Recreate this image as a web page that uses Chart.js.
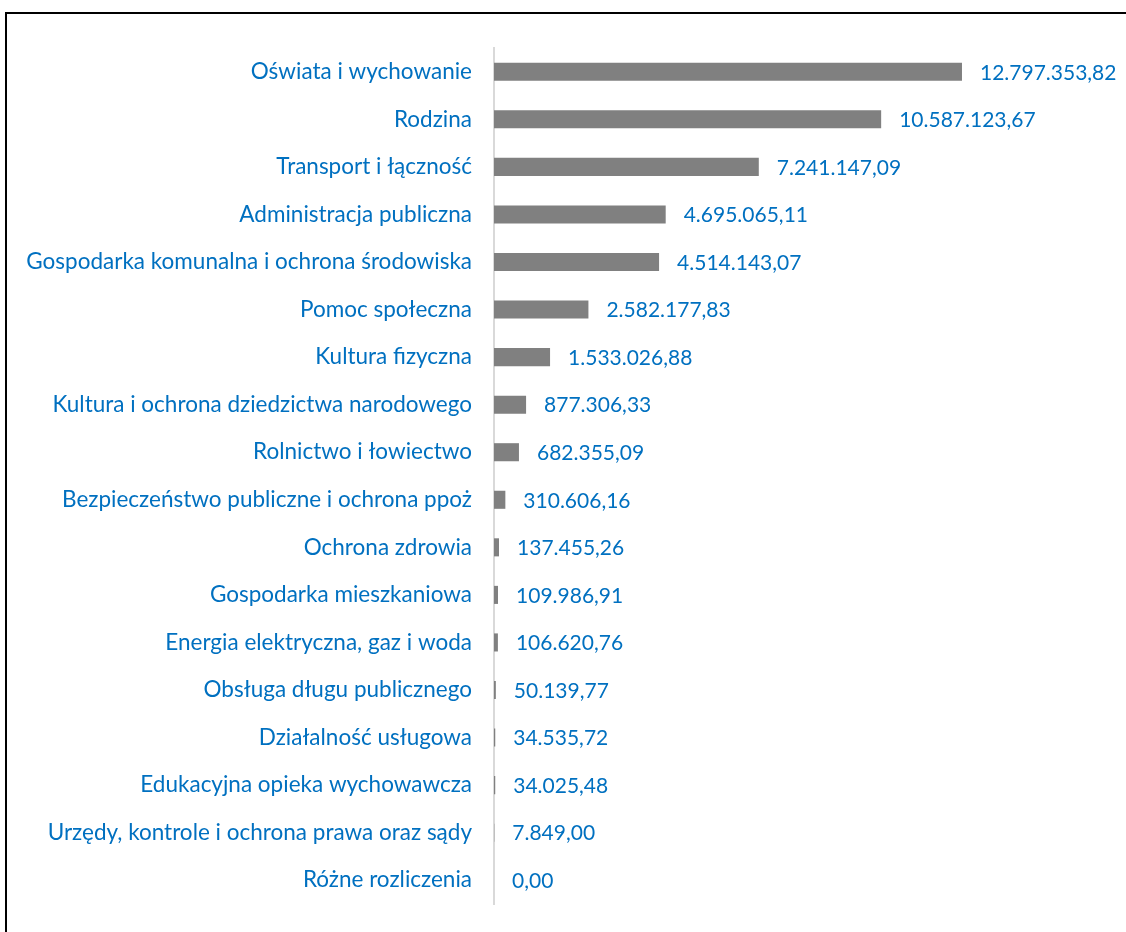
<!DOCTYPE html>
<html>
<head>
<meta charset="utf-8">
<script src="https://cdn.jsdelivr.net/npm/chart.js@4/dist/chart.umd.min.js"></script>
<style>
  html, body { margin: 0; padding: 0; background: #fff; }
  #wrap { position: relative; width: 1126px; height: 932px; overflow: hidden; }
  #frame { position: absolute; left: 5px; top: 12px; width: 1200px; height: 1000px;
           border-left: 2px solid #000; border-top: 2px solid #000; box-sizing: border-box; }
  canvas { position: absolute; left: 0; top: 0; }
</style>
</head>
<body>
<div id="wrap">
  <div id="frame"></div>
  <canvas id="c" width="1126" height="932"></canvas>
</div>
<script>
const categories = [
  "Oświata i wychowanie",
  "Rodzina",
  "Transport i łączność",
  "Administracja publiczna",
  "Gospodarka komunalna i ochrona środowiska",
  "Pomoc społeczna",
  "Kultura fizyczna",
  "Kultura i ochrona dziedzictwa narodowego",
  "Rolnictwo i łowiectwo",
  "Bezpieczeństwo publiczne i ochrona ppoż",
  "Ochrona zdrowia",
  "Gospodarka mieszkaniowa",
  "Energia elektryczna, gaz i woda",
  "Obsługa długu publicznego",
  "Działalność usługowa",
  "Edukacyjna opieka wychowawcza",
  "Urzędy, kontrole i ochrona prawa oraz sądy",
  "Różne rozliczenia"
];
const values = [
  12797353.82, 10587123.67, 7241147.09, 4695065.11, 4514143.07,
  2582177.83, 1533026.88, 877306.33, 682355.09, 310606.16,
  137455.26, 109986.91, 106620.76, 50139.77, 34535.72,
  34025.48, 7849.00, 0.00
];

function fmtPL(v) {
  const parts = v.toFixed(2).split(".");
  const intPart = parts[0].replace(/\B(?=(\d{3})+(?!\d))/g, ".");
  return intPart + "," + parts[1];
}

const FONT = "Lato, 'Liberation Sans', sans-serif";
const BLUE = "#0070C0";

const valueLabels = {
  id: "valueLabels",
  afterDatasetsDraw(chart) {
    const ctx = chart.ctx;
    const meta = chart.getDatasetMeta(0);
    ctx.save();
    ctx.font = "21px " + FONT;
    ctx.fillStyle = BLUE;
    ctx.textAlign = "left";
    ctx.textBaseline = "middle";
    meta.data.forEach((bar, i) => {
      ctx.fillText(fmtPL(values[i]), bar.x + 18, bar.y + 1);
    });
    ctx.restore();
  }
};

new Chart(document.getElementById("c"), {
  type: "bar",
  data: {
    labels: categories,
    datasets: [{
      data: values,
      backgroundColor: "#808080",
      borderWidth: 0,
      categoryPercentage: 1.0,
      barPercentage: 0.38
    }]
  },
  options: {
    indexAxis: "y",
    responsive: false,
    animation: false,
    layout: { padding: { left: 0, right: 16, top: 48, bottom: 28 } },
    plugins: { legend: { display: false }, tooltip: { enabled: false }, title: { display: false } },
    scales: {
      x: { display: false, min: 0, max: 16845000 },
      y: {
        afterFit(scale) { scale.width = 494; scale.paddingTop = 0; scale.paddingBottom = 0; },
        grid: { display: false, drawTicks: false },
        border: { display: true, color: "#D9D9D9", width: 2 },
        ticks: { color: BLUE, font: { family: FONT, size: 22.5 }, padding: 22, autoSkip: false }
      }
    }
  },
  plugins: [valueLabels]
});
</script>
</body>
</html>
